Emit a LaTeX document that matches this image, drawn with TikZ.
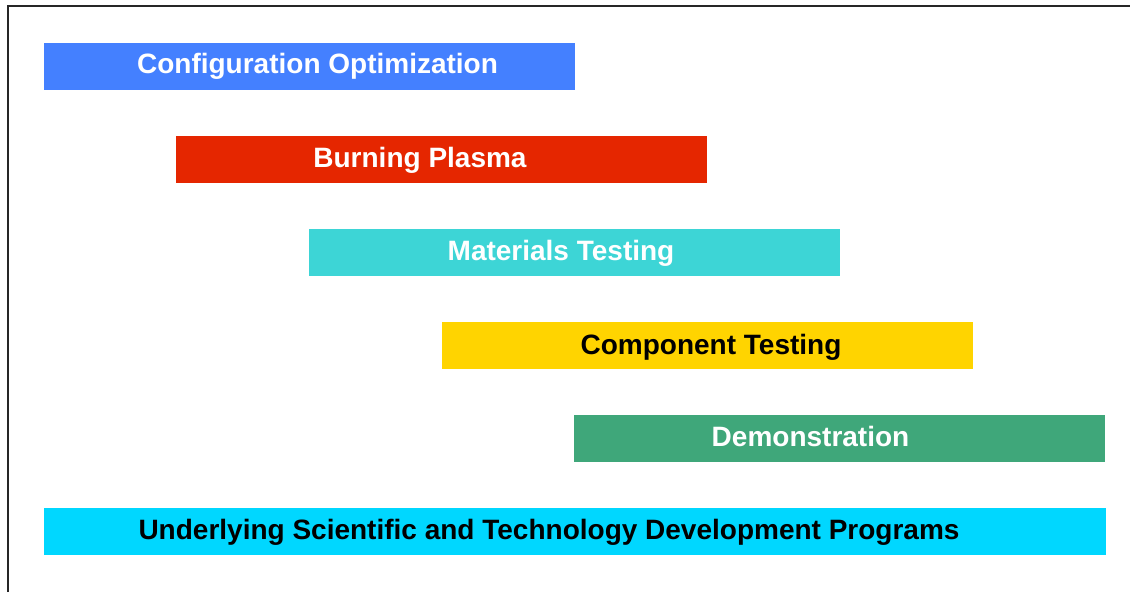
\documentclass[tikz,border=0pt]{standalone}
\usepackage{fontspec}
\setmainfont{Liberation Sans}
\usepackage{tikz}
\usetikzlibrary{calc}
\definecolor{optblue}{RGB}{68,128,255}
\definecolor{plasmared}{RGB}{229,38,0}
\definecolor{matteal}{RGB}{61,213,214}
\definecolor{compyellow}{RGB}{255,212,0}
\definecolor{demogreen}{RGB}{63,167,122}
\definecolor{basecyan}{RGB}{0,215,255}
\tikzset{
    bar/.style={rectangle,inner sep=0pt,minimum height=47pt,minimum width=531pt,anchor=north west},
    bartext/.style={anchor=base,inner sep=0pt,font=\fontsize{28}{30}\selectfont\bfseries},
}

\begin{document}
\begin{tikzpicture}[x=1pt,y=-1pt]
\useasboundingbox (0,0) rectangle (1130,592);
%\draw[step=50,lightgray,very thin] (0,0) grid (1130,592);
\draw[black!85,line width=2pt] (8,592) -- (8,6) -- (1130,6);
\node[bar,fill=optblue] (optim) at (44,43) {};
\node[bartext,white] (optimtxt) at ($(optim.north west)+(273.5,30)$) {Configuration Optimization};
\node[bar,fill=plasmared] (plasma) at (176,136) {};
\node[bartext,white] (plasmatxt) at ($(plasma.north west)+(244,31)$) {Burning Plasma};
\node[bar,fill=matteal] (mat) at (309,229) {};
\node[bartext,white] (mattxt) at ($(mat.north west)+(252,31)$) {Materials Testing};
\node[bar,fill=compyellow] (comp) at (442,322) {};
\node[bartext,black] (comptxt) at ($(comp.north west)+(269,32)$) {Component Testing};
\node[bar,fill=demogreen] (demo) at (574,415) {};
\node[bartext,white] (demotxt) at ($(demo.north west)+(236.5,31)$) {Demonstration};
\node[bar,fill=basecyan,minimum width=1062pt] (base) at (44,508) {};
\node[bartext,black] (basetxt) at ($(base.north west)+(505,31)$) {Underlying Scientific and Technology Development Programs};
\end{tikzpicture}
\end{document}
